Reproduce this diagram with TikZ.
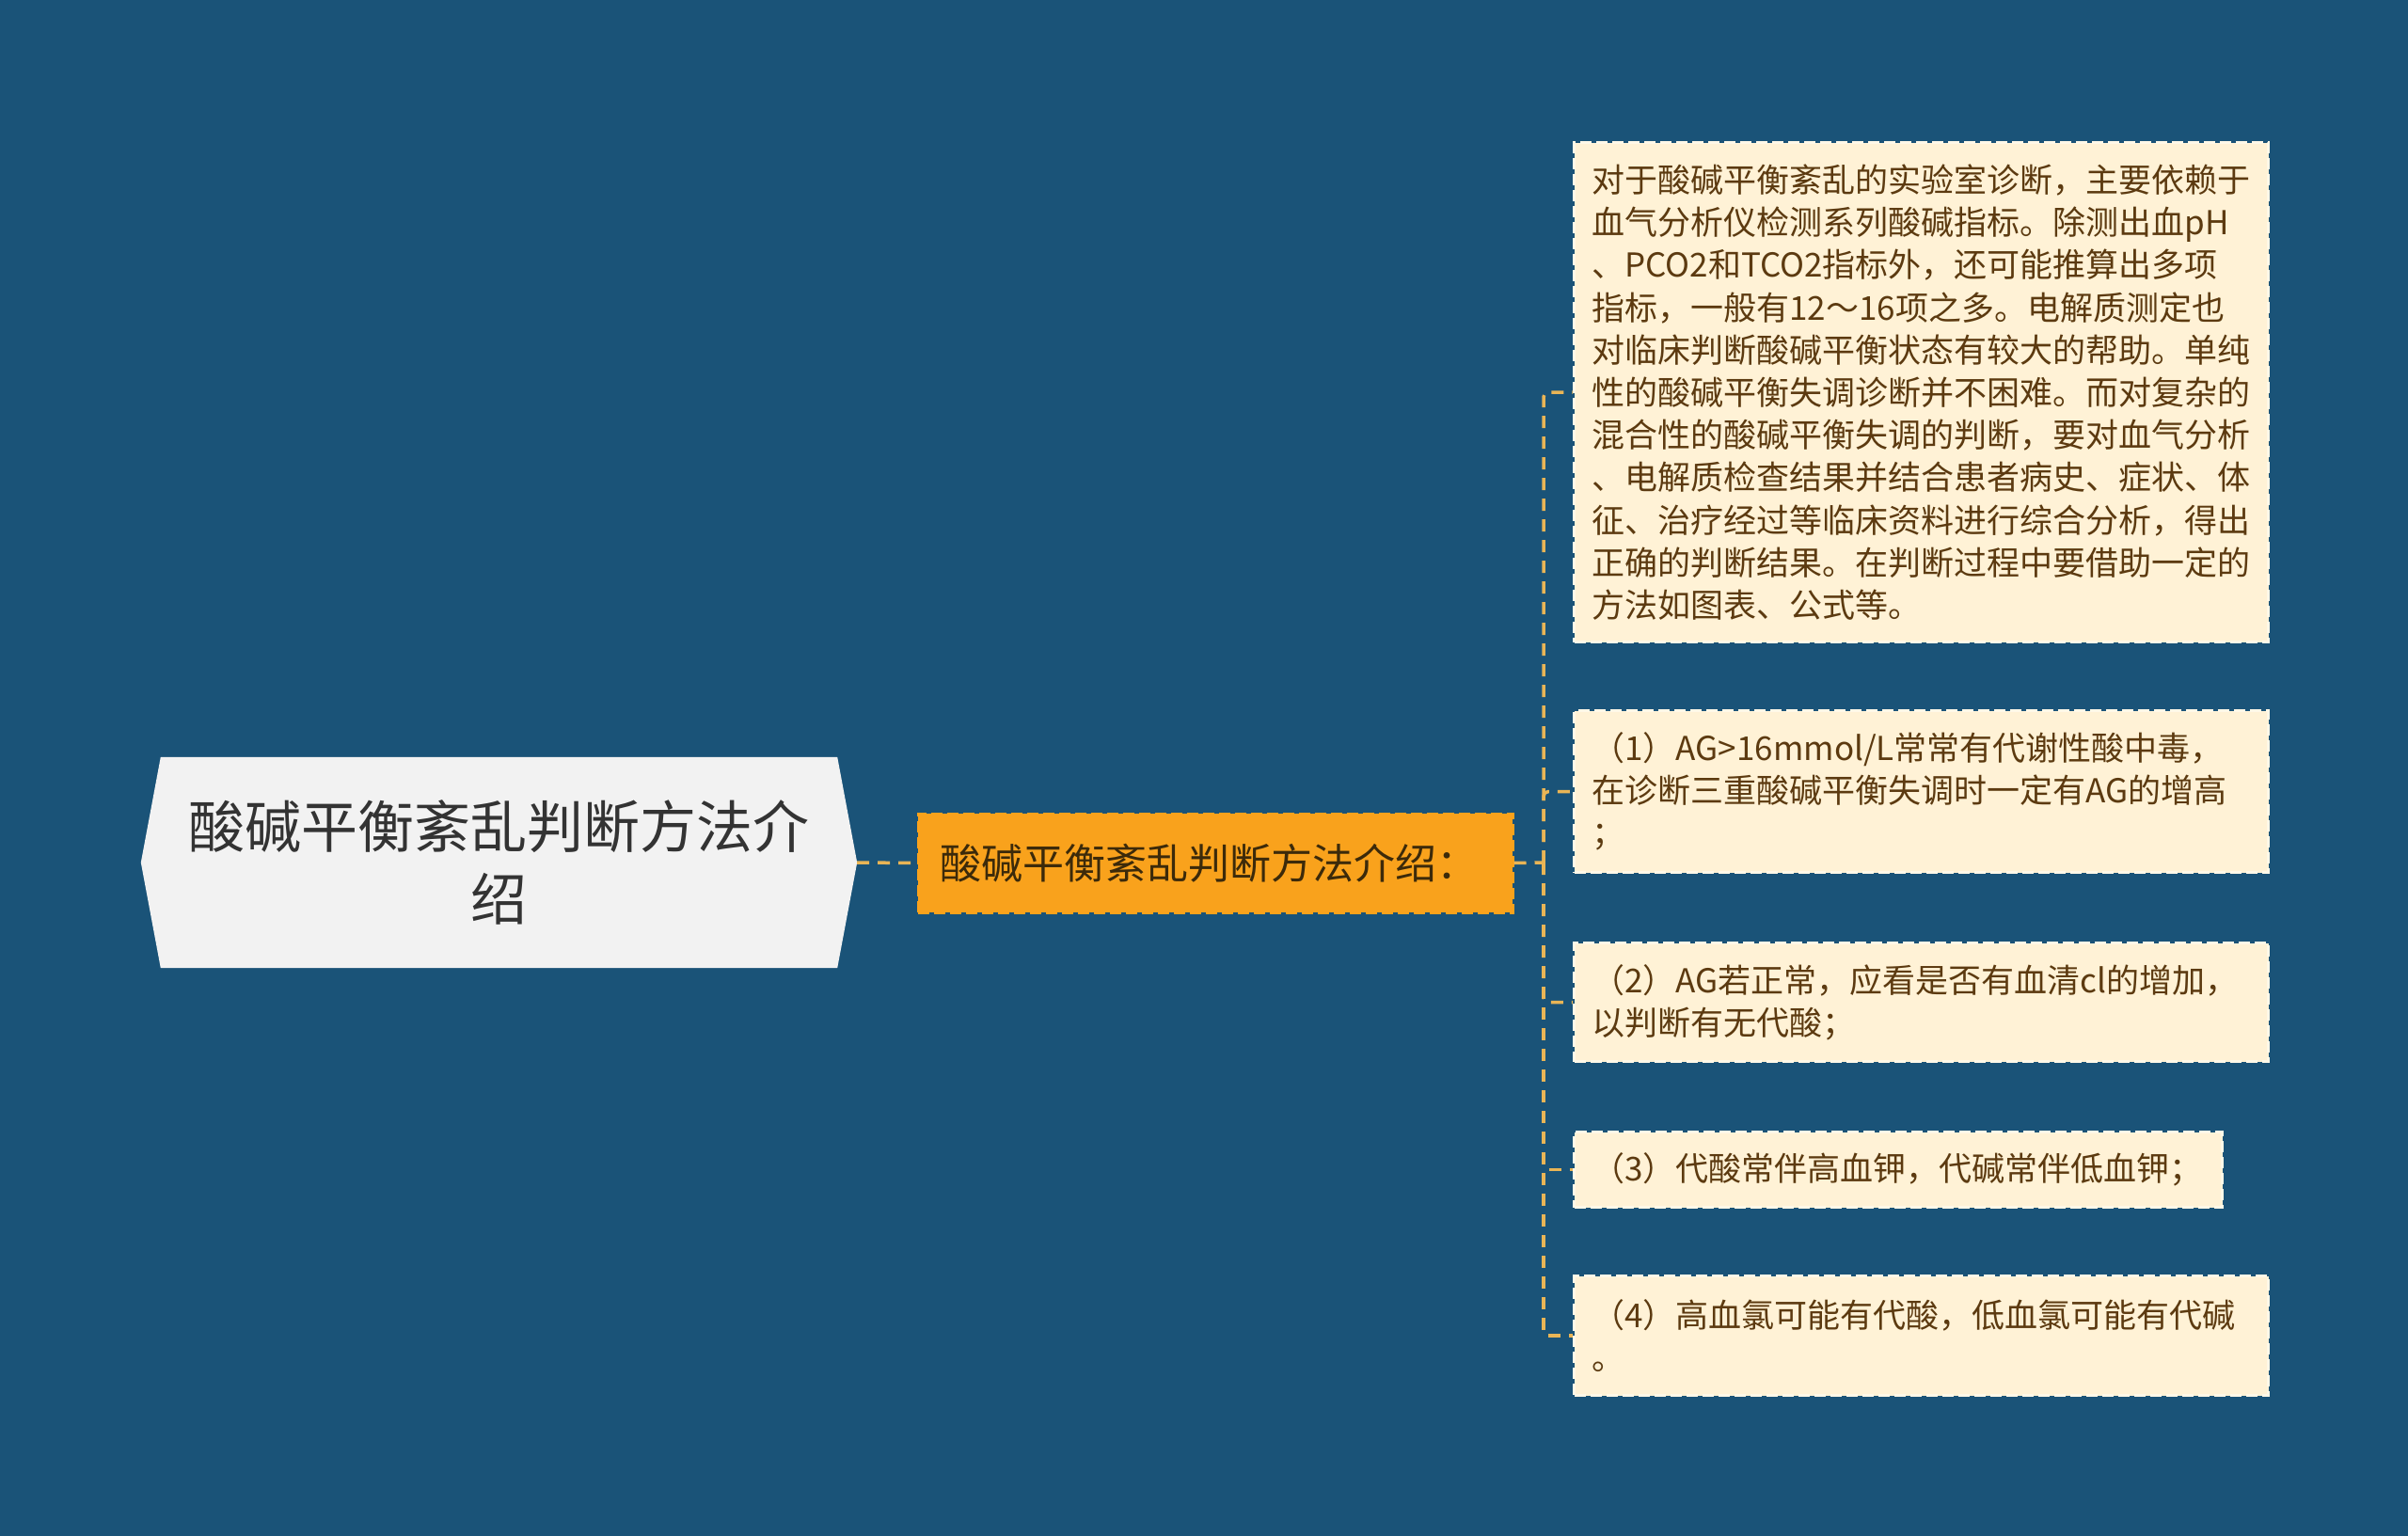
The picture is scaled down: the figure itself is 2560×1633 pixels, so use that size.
\documentclass[tikz,border=0pt]{standalone}
\usepackage{fontspec}
\setmainfont{Noto Sans CJK SC}
\usetikzlibrary{backgrounds,calc}
\definecolor{bgblue}{RGB}{26,83,120}
\definecolor{rootfill}{RGB}{242,242,242}
\definecolor{roottext}{RGB}{51,51,51}
\definecolor{midfill}{RGB}{249,162,28}
\definecolor{midtext}{RGB}{60,42,10}
\definecolor{leaffill}{RGB}{255,242,214}
\definecolor{leafborder}{RGB}{255,248,232}
\definecolor{leaftext}{RGB}{92,58,16}
\definecolor{conncolor}{RGB}{233,181,86}
\tikzset{
  rootbox/.style={minimum width=761pt, minimum height=224pt, inner sep=0pt,
    align=center, text=roottext, font=\fontsize{60}{77}\selectfont},
  midbox/.style={fill=midfill, draw=midfill, line width=3pt, dash pattern=on 12pt off 5pt,
    minimum height=105pt, inner xsep=23pt, inner ysep=0pt, text width=586pt,
    align=left, text=midtext, font=\fontsize{44}{52}\selectfont},
  leafbox/.style={fill=leaffill, draw=leafborder, line width=3pt, dash pattern=on 12pt off 5pt,
    anchor=north west, inner xsep=19pt, inner ysep=0pt, text width=700pt,
    align=left, text=leaftext, font=\fontsize{35}{45.2}\selectfont},
  conn/.style={draw=conncolor, line width=3.5pt, dash pattern=on 13pt off 9pt},
}
\begin{document}
\begin{tikzpicture}[x=1pt,y=-1pt]
\begin{scope}[on background layer]
  \fill[bgblue] (0,0) rectangle (2560,1633);
\end{scope}
\useasboundingbox (0,0) rectangle (2560,1633);

% root
\node[rootbox] (root) at (530.5,917) {酸碱平衡紊乱判断方法介\\绍};
\begin{scope}[on background layer]
  \fill[rootfill] ([xshift=21pt]root.north west) -- ([xshift=-21pt]root.north east)
    -- (root.east) -- ([xshift=-21pt]root.south east)
    -- ([xshift=21pt]root.south west) -- (root.west) -- cycle;
\end{scope}

% middle
\node[midbox] (mid) at (1292,917.5) {酸碱平衡紊乱判断方法介绍：};

% leaves
\node[leafbox, minimum height=531pt] (l1) at (1672,150) {对于酸碱平衡紊乱的实验室诊断，主要依赖于\\血气分析仪检测系列酸碱指标。除测出血pH\\、PCO2和TCO2指标外，还可能推算出多项\\指标，一般有12～16项之多。电解质测定也\\对临床判断酸碱平衡状态有较大的帮助。单纯\\性的酸碱平衡失调诊断并不困难。而对复杂的\\混合性的酸碱平衡失调的判断，要对血气分析\\、电解质检查结果并结合患者病史、症状、体\\征、治疗经过等临床资料进行综合分析，得出\\正确的判断结果。在判断过程中要借助一定的\\方法如图表、公式等。};
\node[leafbox, minimum height=172pt] (l2) at (1672,754) {（1）AG>16mmol/L常常有代谢性酸中毒，\\在诊断三重酸碱平衡失调时一定有AG的增高\\；};
\node[leafbox, minimum height=126pt] (l3) at (1672,1001) {（2）AG若正常，应看是否有血清cl的增加，\\以判断有无代酸；};
\node[leafbox, minimum height=80pt, text width=651pt] (l4) at (1672,1202) {（3）代酸常伴高血钾，代碱常伴低血钾；};
\node[leafbox, minimum height=127pt] (l5) at (1672,1355) {（4）高血氯可能有代酸，低血氯可能有代碱\\。};

% connectors
\coordinate (j) at (1641,917);
\draw[conn] (root.east) -- (mid.west);
\draw[conn] (mid.east) -- (j);
\foreach \n in {l1,l2,l3,l4,l5}{
  \draw[conn, rounded corners=5pt] (j) |- (\n.west);
}
\end{tikzpicture}
\end{document}
